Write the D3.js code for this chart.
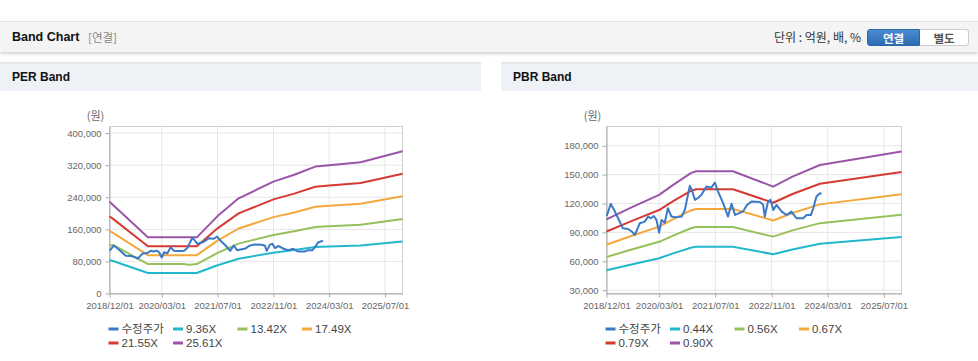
<!DOCTYPE html>
<html><head><meta charset="utf-8">
<script src="https://cdn.jsdelivr.net/npm/d3@7"></script>
<style>
body{margin:0;width:978px;height:361px;background:#fff;font-family:"Liberation Sans",Arial,"Noto Sans CJK KR",sans-serif;overflow:hidden;position:relative}
.abs{position:absolute}
.topbar{left:0;top:21px;width:978px;height:30px;background:#f4f4f4;border-top:1px solid #e3e3e3;box-shadow:0 2px 3px rgba(0,0,0,0.18)}
.title{left:12px;top:22px;line-height:30px;font-size:12.5px;font-weight:bold;color:#111}
.sub{left:88px;top:22px;line-height:30px;font-size:11.5px;color:#888;font-family:"Noto Sans CJK KR",sans-serif}
.unit{right:117px;top:22px;line-height:30px;font-size:12px;color:#333;font-family:"Noto Sans CJK KR",sans-serif}
.btn{top:29px;height:17px;line-height:16px;font-size:11.5px;font-weight:bold;text-align:center;font-family:"Noto Sans CJK KR",sans-serif;box-sizing:border-box}
.b1{left:867px;width:53px;background:linear-gradient(#4b8bd2,#2b6cb3);color:#fff;border-radius:3px 0 0 3px;border:1px solid #2a66aa}
.b2{left:920px;width:49px;background:#fff;color:#555;border:1px solid #ccc;border-left:none;border-radius:0 3px 3px 0}
.ph{top:62px;height:29px;background:#eef1f6;border-top:2px solid #e4e7ec;box-sizing:border-box;font-size:12px;font-weight:bold;color:#111;line-height:27px;padding-left:12px}
</style></head>
<body>
<div class="abs topbar"></div>
<div class="abs title">Band Chart</div>
<div class="abs sub">[연결]</div>
<div class="abs unit">단위 : 억원, 배, %</div>
<div class="abs btn b1">연결</div>
<div class="abs btn b2">별도</div>
<div class="abs ph" style="left:0;width:481px">PER Band</div>
<div class="abs ph" style="left:501px;width:477px">PBR Band</div>
<svg id="chart" class="abs" style="left:0;top:0" width="978" height="361"></svg>
<script>
// ---- data ----
const xTickDates = ["2018-12-01","2020-03-01","2021-07-01","2022-11-01","2024-03-01","2025-07-01"];
const perYTicks = [0,80000,160000,240000,320000,400000];
const pbrYTicks = [30000,60000,90000,120000,150000,180000];

const priceDates = ["2018-12-03","2019-01-07","2019-02-12","2019-03-19","2019-04-22","2019-06-06","2019-07-10","2019-08-04","2019-09-16","2019-10-28","2019-11-27","2019-12-20","2020-01-15","2020-02-07","2020-03-01","2020-03-22","2020-04-19","2020-05-16","2020-06-16","2020-07-20","2020-08-15","2020-09-12","2020-10-10","2020-11-22","2020-12-10","2021-01-06","2021-02-03","2021-03-03","2021-04-15","2021-05-28","2021-06-27","2021-07-25","2021-09-07","2021-10-19","2021-11-19","2021-12-19","2022-01-20","2022-02-28","2022-04-01","2022-05-10","2022-07-22","2022-08-19","2022-09-03","2022-10-01","2022-10-22","2022-11-16","2022-12-13","2023-01-28","2023-03-10","2023-04-22","2023-06-04","2023-08-01","2023-09-01","2023-10-07","2023-10-28","2023-11-25","2023-12-25","2024-01-08"];
const priceValues = [107000,119600,111600,102900,94200,93500,90700,87300,99500,101200,106400,104700,107000,103000,89700,102900,100000,115100,106400,105700,106000,106400,113300,138300,134000,123800,126000,129000,137600,136500,141800,132400,120300,106400,119600,108100,109800,112000,118500,122000,121500,119000,106400,122000,123800,113300,118500,111600,108100,111600,104700,104700,108100,108000,115100,127200,130700,130000];

const perBandDates = ["2018-12-01","2019-01-01","2019-11-01","2020-09-01","2020-11-01","2021-01-01","2021-07-01","2022-01-01","2022-11-01","2023-05-01","2023-11-01","2024-03-01","2024-12-01","2025-12-01"];
const perLabels = ["9.36X","13.42X","17.49X","21.55X","25.61X"];
const per936  = [83700, 81000,51200,51200,51200,51200,70600,86800,101900,108200,115700,117000,119700,129700];
const per1342 = [120000,121000,73400,73400,71500,73400,101200,124400,146100,155100,165900,167800,171600,186000];
const per1749 = [156400,151000,95700,95700,95700,95700,131900,162100,190500,202200,216200,218600,223700,242400];
const per2155 = [192700,186000,117900,117900,117900,117900,162500,199800,234700,249100,266400,269400,275600,298700];
const per2561 = [229000,221000,140100,140100,140100,140100,193100,237400,278900,296100,316500,320100,327500,355000];

const pbrBandDates = ["2018-12-01","2019-07-15","2020-03-01","2020-07-01","2020-12-01","2021-01-15","2021-12-01","2022-11-15","2023-05-01","2023-12-25","2025-12-01"];
const pbrLabels = ["0.44X","0.56X","0.67X","0.79X","0.90X"];
const pbr044 = [50600,56900,63100,68200,74100,75100,75100,67300,72300,78200,85100];
const pbr056 = [64500,72500,80200,86700,94300,95500,95500,85600,92100,99600,108200];
const pbr067 = [77100,86700,96000,103800,112800,114300,114300,102400,110100,119100,129500];
const pbr079 = [90900,102200,113200,122400,133000,134800,134800,120800,129900,140500,152700];
const pbr090 = [103600,116500,129000,139400,151600,153500,153500,137600,148000,160000,174000];

const priceLabel = "수정주가";
const colors = ["#3a78c8","#22b8cc","#96c15a","#f4a83c","#d63a33","#9b55a8"];

// ---- drawing ----
const parse = d3.timeParse("%Y-%m-%d");
const svg = d3.select("#chart");
const fmtDate = d3.timeFormat("%Y/%m/%d");

function drawChart(cfg){
  const g = svg.append("g");
  const x = d3.scaleTime().domain([parse("2018-12-01"), parse("2025-12-01")]).range([cfg.x0, cfg.x1]);
  const y = d3.scaleLinear().domain(cfg.yDomain).range([293.5, 126.5]);
  const ticksX = xTickDates.map(parse);
  g.selectAll(".hg").data(cfg.yTicks).enter().append("line")
    .attr("x1", cfg.x0).attr("x2", cfg.x1).attr("y1", d=>y(d)).attr("y2", d=>y(d))
    .attr("stroke", "#e6e6e6").attr("stroke-width", 1);
  g.selectAll(".vg").data(ticksX).enter().append("line")
    .attr("x1", d=>x(d)).attr("x2", d=>x(d)).attr("y1", 126.5).attr("y2", 293.5)
    .attr("stroke", "#e6e6e6").attr("stroke-width", 1);
  g.append("rect").attr("x", cfg.x0).attr("y", 126.5).attr("width", cfg.x1-cfg.x0).attr("height", 167)
    .attr("fill", "none").attr("stroke", "#cfcfcf");
  const ax = g.append("g").attr("transform", "translate(0,293.5)")
    .call(d3.axisBottom(x).tickValues(ticksX).tickFormat(fmtDate).tickSize(4).tickSizeOuter(0));
  const ay = g.append("g").attr("transform", `translate(${cfg.x0},0)`)
    .call(d3.axisLeft(y).tickValues(cfg.yTicks).tickFormat(d3.format(",")).tickSize(4).tickSizeOuter(0));
  [ax, ay].forEach(a=>{
    a.select(".domain").attr("stroke", "#aaa");
    a.selectAll(".tick line").attr("stroke", "#aaa");
    a.selectAll("text").attr("fill", "#666").style("font-size", "9.5px").style("font-family", "'Liberation Sans',Arial,sans-serif");
  });
  ax.selectAll("text").attr("dy", "0.9em");
  ay.selectAll("text").attr("dx", "-1px");
  g.append("text").attr("x", cfg.x0-14).attr("y", 120).attr("text-anchor", "middle")
    .attr("fill", "#666").style("font-size", "11px").style("font-family", "'Noto Sans CJK KR',sans-serif").text("(원)");
  const line = d3.line().x(d=>x(d.date)).y(d=>y(d.v));
  cfg.bands.forEach((vals, i)=>{
    const pts = cfg.bandDates.map((d,k)=>({date: parse(d), v: vals[k]}));
    g.append("path").datum(pts).attr("d", line).attr("fill", "none")
      .attr("stroke", colors[i+1]).attr("stroke-width", 2).attr("stroke-linejoin", "round");
  });
  const ppts = priceDates.map((d,k)=>({date: parse(d), v: priceValues[k]}));
  g.append("path").datum(ppts).attr("d", line).attr("fill", "none")
    .attr("stroke", colors[0]).attr("stroke-width", 2).attr("stroke-linejoin", "round");
  const names = [priceLabel].concat(cfg.labels);
  const lg = g.append("g");
  names.forEach((n, i)=>{
    const col = i < 4 ? i : i - 4;
    const row = i < 4 ? 0 : 1;
    const lx = cfg.x0 - 1 + col * 64.5;
    const ly = 329 + row * 14;
    lg.append("line").attr("x1", lx).attr("x2", lx+10).attr("y1", ly).attr("y2", ly)
      .attr("stroke", colors[i]).attr("stroke-width", 3);
    lg.append("text").attr("x", lx+13).attr("y", ly).attr("dy", "0.35em")
      .attr("fill", "#444").style("font-size", "11.5px")
      .style("font-family", "'Liberation Sans','Noto Sans CJK KR',sans-serif").text(n);
  });
}

drawChart({x0:109.5, x1:402.5, yDomain:[0,416500], yTicks:perYTicks, bandDates:perBandDates,
  bands:[per936,per1342,per1749,per2155,per2561], labels:perLabels});
drawChart({x0:606.5, x1:901.5, yDomain:[26500,200000], yTicks:pbrYTicks, bandDates:pbrBandDates,
  bands:[pbr044,pbr056,pbr067,pbr079,pbr090], labels:pbrLabels});
</script>
</body></html>
